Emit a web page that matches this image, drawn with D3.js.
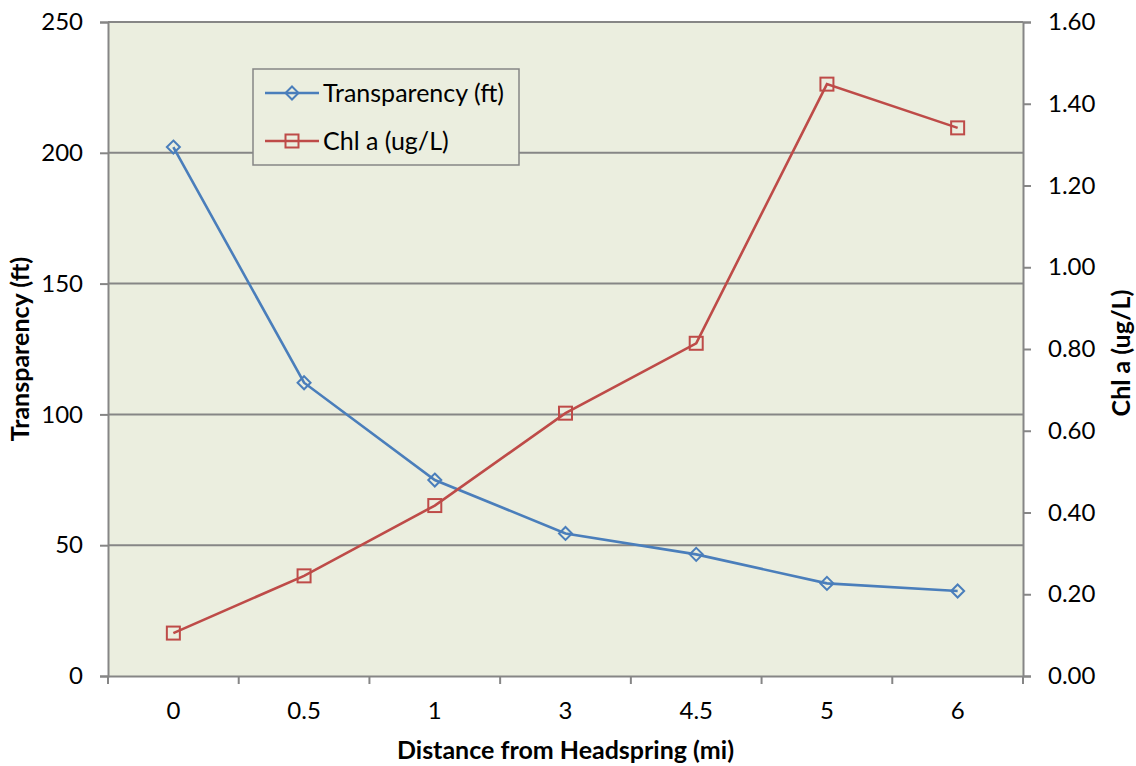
<!DOCTYPE html>
<html>
<head>
<meta charset="utf-8">
<script src="https://cdn.jsdelivr.net/npm/d3@7"></script>
<style>
  body { margin: 0; background: #fff; }
  text { font-family: Lato, "Open Sans", sans-serif; fill: #000; }
</style>
</head>
<body>
<div id="chart"></div>
<script>
const categories = ['0', '0.5', '1', '3', '4.5', '5', '6'];
const transparency = [202.2, 112.1, 74.9, 54.5, 46.5, 35.4, 32.5];
const chlA = [0.105, 0.245, 0.417, 0.643, 0.814, 1.448, 1.341];
const leftTicks = [0, 50, 100, 150, 200, 250];
const rightTicks = [0, 0.2, 0.4, 0.6, 0.8, 1.0, 1.2, 1.4, 1.6];

const W = 1136, H = 766;
const margin = { top: 22, right: 113, bottom: 90, left: 108 };
const width = W - margin.left - margin.right;
const height = H - margin.top - margin.bottom;

const blue = '#4a7ebb', red = '#be4b48', grid = '#868686', bg = '#ebeedf';

const svg = d3.select('#chart').append('svg')
  .attr('width', W)
  .attr('height', H);

const g = svg.append('g')
  .attr('transform', `translate(${margin.left},${margin.top})`);

const x = d3.scaleBand().domain(categories).range([0, width]);
const yL = d3.scaleLinear().domain([0, 250]).range([height, 0]);
const yR = d3.scaleLinear().domain([0, 1.6]).range([height, 0]);

// plot area
g.append('rect')
  .attr('width', width)
  .attr('height', height)
  .attr('fill', bg);

// gridlines
g.selectAll('.grid')
  .data(leftTicks.filter(d => d > 0))
  .enter().append('line')
  .attr('x1', 0).attr('x2', width)
  .attr('y1', d => yL(d)).attr('y2', d => yL(d))
  .attr('stroke', grid).attr('stroke-width', 2);

// left axis
const axL = g.append('g')
  .call(d3.axisLeft(yL).tickValues(leftTicks).tickSize(8).tickPadding(17));
// right axis
const axR = g.append('g')
  .attr('transform', `translate(${width},0)`)
  .call(d3.axisRight(yR).tickValues(rightTicks).tickSize(8).tickPadding(17)
    .tickFormat(d3.format('.2f')));
// bottom axis
const axB = g.append('g')
  .attr('transform', `translate(0,${height})`)
  .call(d3.axisBottom(x).tickSize(0).tickPadding(26));

// category boundary ticks on the x axis
const bounds = categories.map(c => x(c)).concat([width]);
axB.selectAll('.bound')
  .data(bounds)
  .enter().append('line')
  .attr('x1', d => d).attr('x2', d => d)
  .attr('y1', 0).attr('y2', 8)
  .attr('stroke', grid).attr('stroke-width', 2);

[axL, axR, axB].forEach(a => {
  a.selectAll('.domain').attr('stroke', grid).attr('stroke-width', 2);
  a.selectAll('.tick line').attr('stroke', grid).attr('stroke-width', 2);
  a.selectAll('.tick text')
    .style('font-family', 'Lato, "Open Sans", sans-serif')
    .style('font-size', '24px').attr('fill', '#000');
});

const cx = d => x(d) + x.bandwidth() / 2;

// transparency line
const tData = categories.map((c, i) => ({ c, v: transparency[i] }));
g.append('path')
  .datum(tData)
  .attr('fill', 'none').attr('stroke', blue).attr('stroke-width', 2.6)
  .attr('d', d3.line().x(d => cx(d.c)).y(d => yL(d.v)));
g.selectAll('.tm')
  .data(tData)
  .enter().append('path')
  .attr('transform', d => `translate(${cx(d.c)},${yL(d.v)})`)
  .attr('d', 'M0,-6.5L6.5,0L0,6.5L-6.5,0Z')
  .attr('fill', 'none').attr('stroke', blue).attr('stroke-width', 2);

// chl a line
const cData = categories.map((c, i) => ({ c, v: chlA[i] }));
g.append('path')
  .datum(cData)
  .attr('fill', 'none').attr('stroke', red).attr('stroke-width', 2.6)
  .attr('d', d3.line().x(d => cx(d.c)).y(d => yR(d.v)));
g.selectAll('.cm')
  .data(cData)
  .enter().append('rect')
  .attr('x', d => cx(d.c) - 6.5).attr('y', d => yR(d.v) - 6.5)
  .attr('width', 13).attr('height', 13)
  .attr('fill', 'none').attr('stroke', red).attr('stroke-width', 2);

// legend
const leg = svg.append('g').attr('transform', 'translate(253,69)');
leg.append('rect')
  .attr('width', 266).attr('height', 96)
  .attr('fill', bg).attr('stroke', grid).attr('stroke-width', 1.5);
const legItems = [
  { name: 'Transparency (ft)', color: blue, shape: 'diamond' },
  { name: 'Chl a (ug/L)', color: red, shape: 'square' }
];
legItems.forEach((it, i) => {
  const yy = 24 + i * 48;
  leg.append('line')
    .attr('x1', 12).attr('x2', 66).attr('y1', yy).attr('y2', yy)
    .attr('stroke', it.color).attr('stroke-width', 2.6);
  if (it.shape === 'diamond') {
    leg.append('path')
      .attr('transform', `translate(39,${yy})`)
      .attr('d', 'M0,-6.5L6.5,0L0,6.5L-6.5,0Z')
      .attr('fill', 'none').attr('stroke', it.color).attr('stroke-width', 2);
  } else {
    leg.append('rect')
      .attr('x', 32.5).attr('y', yy - 6.5).attr('width', 13).attr('height', 13)
      .attr('fill', 'none').attr('stroke', it.color).attr('stroke-width', 2);
  }
  leg.append('text')
    .attr('x', 70).attr('y', yy).attr('dy', '0.35em')
    .style('font-size', '25px')
    .text(it.name);
});

// axis titles
svg.append('text')
  .attr('x', margin.left + width / 2).attr('y', 750)
  .attr('text-anchor', 'middle').attr('dy', '0.35em')
  .style('font-size', '25px').style('font-weight', 'bold')
  .text('Distance from Headspring (mi)');
svg.append('text')
  .attr('transform', `translate(20,${margin.top + height / 2}) rotate(-90)`)
  .attr('text-anchor', 'middle').attr('dy', '0.35em')
  .style('font-size', '25px').style('font-weight', 'bold')
  .text('Transparency (ft)');
svg.append('text')
  .attr('transform', `translate(1121,${margin.top + height / 2 + 4}) rotate(-90)`)
  .attr('text-anchor', 'middle').attr('dy', '0.35em')
  .style('font-size', '25px').style('font-weight', 'bold')
  .text('Chl a (ug/L)');
</script>
</body>
</html>
